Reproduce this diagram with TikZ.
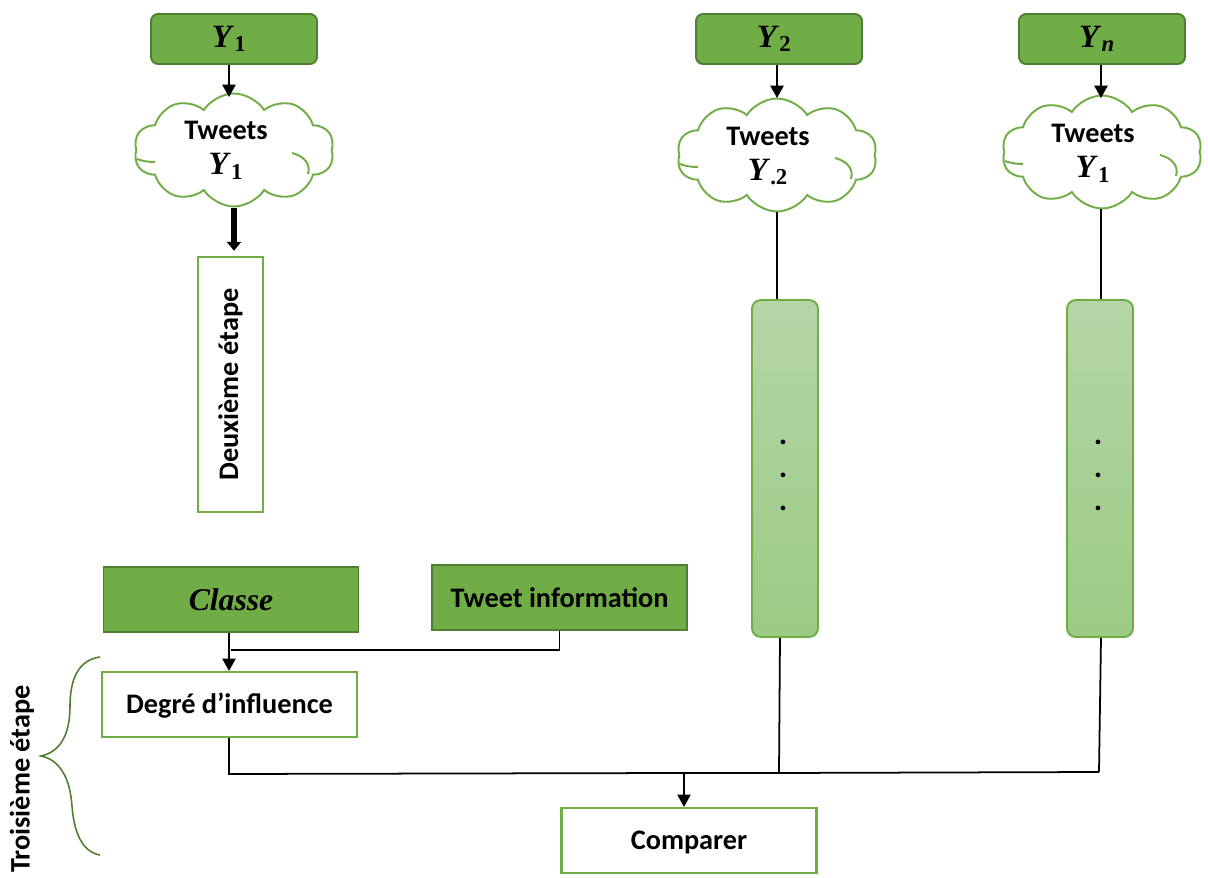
\documentclass[tikz,border=0pt]{standalone}
\usepackage{fontspec}
\setmainfont{Carlito}
\newfontfamily\symbfont{Liberation Serif}
\usetikzlibrary{arrows.meta,positioning,shapes.symbols}
\definecolor{leaf}{HTML}{70AD47}
\definecolor{leafdark}{HTML}{507E32}
\definecolor{barTop}{HTML}{B5D5A7}
\definecolor{barBottom}{HTML}{9BCB84}
\newcommand{\yvar}[1]{{\symbfont\bfseries\itshape\fontsize{18.5pt}{20pt}\selectfont Y\kern1.5pt\textsubscript{#1}}}
\newcommand{\cloudhooks}[1]{%
    \draw[draw=leaf, line width=1.1pt, shift={(#1.center)}] (58,3) .. controls (70,6) and (77,14) .. (74,24);
    \draw[draw=leaf, line width=1.1pt, shift={(#1.center)}] (-97,9) .. controls (-92,11) and (-86,12) .. (-79,12);
}
\begin{document}
\begin{tikzpicture}[
    x=0.02cm, y=-0.02cm,
    font=\fontsize{16.1pt}{19pt}\selectfont\bfseries,
    line width=1pt,
    >={Triangle[width=7.5pt,length=7pt]},
    % styles
    yvar box/.style={
        draw=leafdark, fill=leaf, rounded corners=4pt, line width=1.1pt,
        minimum width=3.32cm, minimum height=1cm
    },
    input box/.style={
        draw=leafdark, fill=leaf, line width=1.1pt,
        minimum width=5.1cm, minimum height=1.3cm
    },
    step box/.style={
        draw=leaf, fill=white, line width=1.2pt, text height=13pt,
        minimum width=5.1cm, minimum height=1.3cm
    },
    tweet cloud/.style={
        cloud, cloud puffs=10, cloud puff arc=115, cloud ignores aspect,
        draw=leaf, fill=white, line width=1.1pt,
        minimum width=4cm, minimum height=2.26cm, inner sep=0pt
    },
    bar/.style={
        draw=leaf, rounded corners=5pt, top color=barTop, bottom color=barBottom, line width=1.1pt,
        minimum width=1.32cm, minimum height=6.74cm
    },
    dots/.style={align=center, font=\fontsize{18pt}{18.8pt}\selectfont\bfseries}
]
    \useasboundingbox (0,0) rectangle (1208,878);

    % --- 1. First column ---
    \node[yvar box] (y1) at (234,39) {\yvar{\upshape 1}\kern5.5pt};
    \node[tweet cloud] (cloud1) at (234,150) {};
    \cloudhooks{cloud1}
    \node[align=center] (tweets1) at (226,150) {Tweets\\[1pt]\yvar{\upshape 1}};
    \node[draw=leaf, fill=white, line width=1.2pt, minimum width=1.3cm, minimum height=5.1cm] (second) at (230.5,384.5) {};
    \node[rotate=90] (secondtext) at (second.center) {Deuxième étape};

    % --- 2. Second column ---
    \node[yvar box] (y2) at (779,39) {\yvar{\upshape 2}\kern5.5pt};
    \node[tweet cloud] (cloud2) at (777,155) {};
    \cloudhooks{cloud2}
    \node[align=center] (tweets2) at (768,156) {Tweets\\[1pt]\yvar{\upshape .2}};
    \node[bar] (bar2) at (785,468.5) {};
    \node[dots] (dots2) at (783,475) {.\\.\\.};

    % --- 3. Third column ---
    \node[yvar box] (yn) at (1102,39) {\yvar{n}\kern5.5pt};
    \node[tweet cloud] (cloud3) at (1102,152) {};
    \cloudhooks{cloud3}
    \node[align=center] (tweets3) at (1093,153) {Tweets\\[1pt]\yvar{\upshape 1}};
    \node[bar] (bar3) at (1100,468.5) {};
    \node[dots] (dots3) at (1098,475) {.\\.\\.};

    % --- 4. Lower part ---
    \node[input box] (classe) at (231,599.5) {{\symbfont\itshape\fontsize{18pt}{20pt}\selectfont Classe}};
    \node[input box] (info) at (559.5,597.5) {Tweet information};
    \node[step box] (degre) at (229.5,704.5) {Degré d’influence};
    \node[step box] (comparer) at (689,840.5) {Comparer};

    % brace
    \draw[draw=leafdark, line width=0.9pt] (100,657) .. controls (78,660) and (70,680) .. (70,706)
        .. controls (70,735) and (60,752) .. (41,756)
        .. controls (60,760) and (70,778) .. (72,806)
        .. controls (74,832) and (82,852) .. (100,855);
    \node[rotate=90] (third) at (22,779) {Troisième étape};

    % --- 5. Arrows ---
    \draw[->] (y1.south -| 229,0) -- (229,97);
    \draw[->, line width=3pt, >={Triangle[width=8pt,length=5pt]}, shorten <=0.5pt, shorten >=3pt] (cloud1.south -| 234,0) -- (second.north -| 234,0);
    \draw[->] (y2.south -| 777,0) -- (777,98);
    \draw[->] (yn.south -| 1101,0) -- (1101,98);

    \draw (cloud2.south) -- (bar2.north -| cloud2.south);
    \draw (cloud3.south -| 1101,0) -- (bar3.north -| 1101,0);

    \draw[->] (classe.south -| 229,0) -- (degre.north -| 229,0);
    \coordinate (infoturn) at (info.south |- 0,650);
    \draw (info.south) -- (infoturn) -- (231,650);

    % bus
    \coordinate (busstart) at (degre.south -| 229,0);
    \coordinate (buscorner) at (229,774);
    \coordinate (busmid) at (684,773);
    \coordinate (bustwo) at (779,773);
    \coordinate (busend) at (1099,772);
    \draw (busstart) -- (buscorner) -- (busmid) -- (bustwo) -- (busend);
    \draw (bar2.south -| 780,0) -- (bustwo);
    \draw (bar3.south -| 1101,0) -- (busend);
    \draw[->] (busmid) -- (comparer.north -| busmid);

\end{tikzpicture}
\end{document}
